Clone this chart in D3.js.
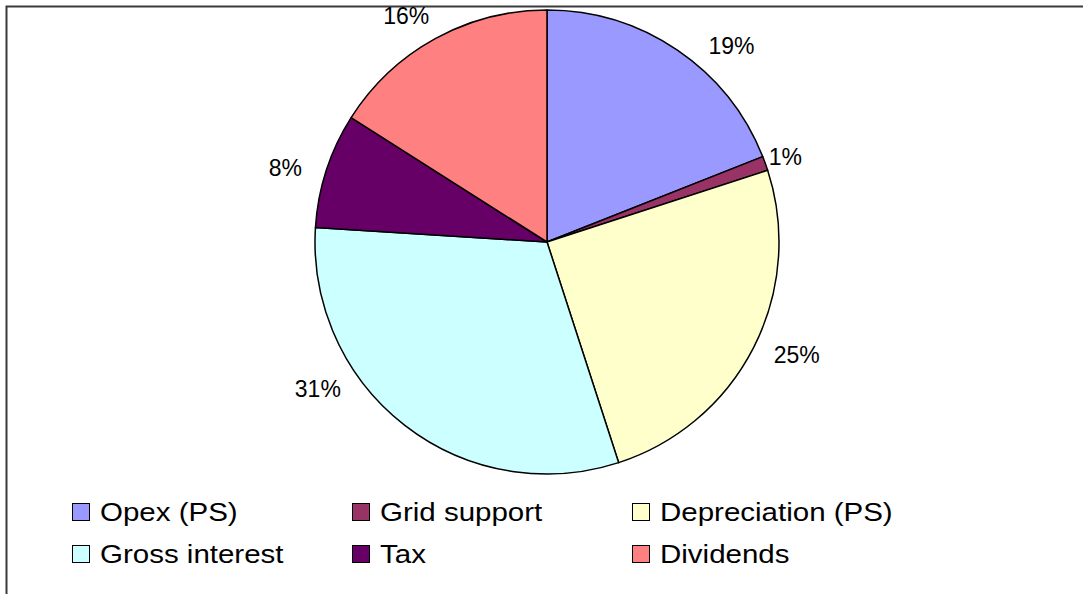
<!DOCTYPE html>
<html>
<head>
<meta charset="utf-8">
<script src="https://cdn.jsdelivr.net/npm/d3@7/dist/d3.min.js"></script>
<style>
  html, body { margin: 0; padding: 0; background: #fff; }
  svg { display: block; font-family: "Liberation Sans", Arial, sans-serif; }
</style>
</head>
<body>
<svg id="chart" width="1083" height="594"></svg>
<script>
// Cost breakdown shares (percent of total)
const categories = ["Opex (PS)", "Grid support", "Depreciation (PS)", "Gross interest", "Tax", "Dividends"];
const shares = [19, 1, 25, 31, 8, 16];
const colors = ["#9999FF", "#993366", "#FFFFCC", "#CCFFFF", "#660066", "#FF8080"];

// Label placement: offset from the slice's outer edge at its mid-angle
const labelNudge = [[54, -4], [20, -7], [43, 7], [-87, -37], [-41, -3], [-29, -23]];

const svg = d3.select("#chart");
const W = 1083, H = 594;

// chart area frame
svg.append("rect")
  .attr("x", 6.5).attr("y", 6.5)
  .attr("width", W + 20).attr("height", H + 20)
  .attr("fill", "#fff")
  .attr("stroke", "#3a3a3a")
  .attr("stroke-width", 2);

const cx = 547, cy = 242, R = 232;

const data = categories.map((c, i) => ({ name: c, value: shares[i], color: colors[i], i }));
const pie = d3.pie().value(d => d.value).sort(null);
const arcs = pie(data);
const arc = d3.arc().innerRadius(0).outerRadius(R);

const g = svg.append("g").attr("transform", `translate(${cx},${cy})`);

g.selectAll("path.slice")
  .data(arcs)
  .enter().append("path")
  .attr("class", "slice")
  .attr("d", arc)
  .attr("fill", d => d.data.color)
  .attr("stroke", "#000")
  .attr("stroke-width", 1.5)
  .attr("stroke-linejoin", "round");

const total = d3.sum(shares);
const pct = d3.format(".0%");

g.selectAll("text.pct")
  .data(arcs)
  .enter().append("text")
  .attr("class", "pct")
  .attr("x", d => {
    const a = (d.startAngle + d.endAngle) / 2;
    return R * Math.sin(a) + labelNudge[d.data.i][0];
  })
  .attr("y", d => {
    const a = (d.startAngle + d.endAngle) / 2;
    return -R * Math.cos(a) + labelNudge[d.data.i][1];
  })
  .attr("dy", "0.36em")
  .attr("text-anchor", "middle")
  .attr("font-size", 23)
  .attr("fill", "#000")
  .text(d => pct(d.data.value / total));

// legend: three columns, two rows
const legX = d3.scaleOrdinal().domain([0, 1, 2]).range([72, 352, 632]);
const legY = d3.scaleOrdinal().domain([0, 1]).range([512, 554]);

const leg = svg.append("g").selectAll("g.item")
  .data(data)
  .enter().append("g")
  .attr("class", "item")
  .attr("transform", d => `translate(${legX(d.i % 3)},${legY(Math.floor(d.i / 3))})`);

leg.append("rect")
  .attr("x", 0.5).attr("y", -8.5)
  .attr("width", 17).attr("height", 17)
  .attr("fill", d => d.color)
  .attr("stroke", "#000")
  .attr("stroke-width", 1);

leg.append("text")
  .attr("transform", "translate(28,0) scale(1.18,1)")
  .attr("dy", "0.36em")
  .attr("font-size", 25)
  .attr("fill", "#000")
  .text(d => d.name);
</script>
</body>
</html>
